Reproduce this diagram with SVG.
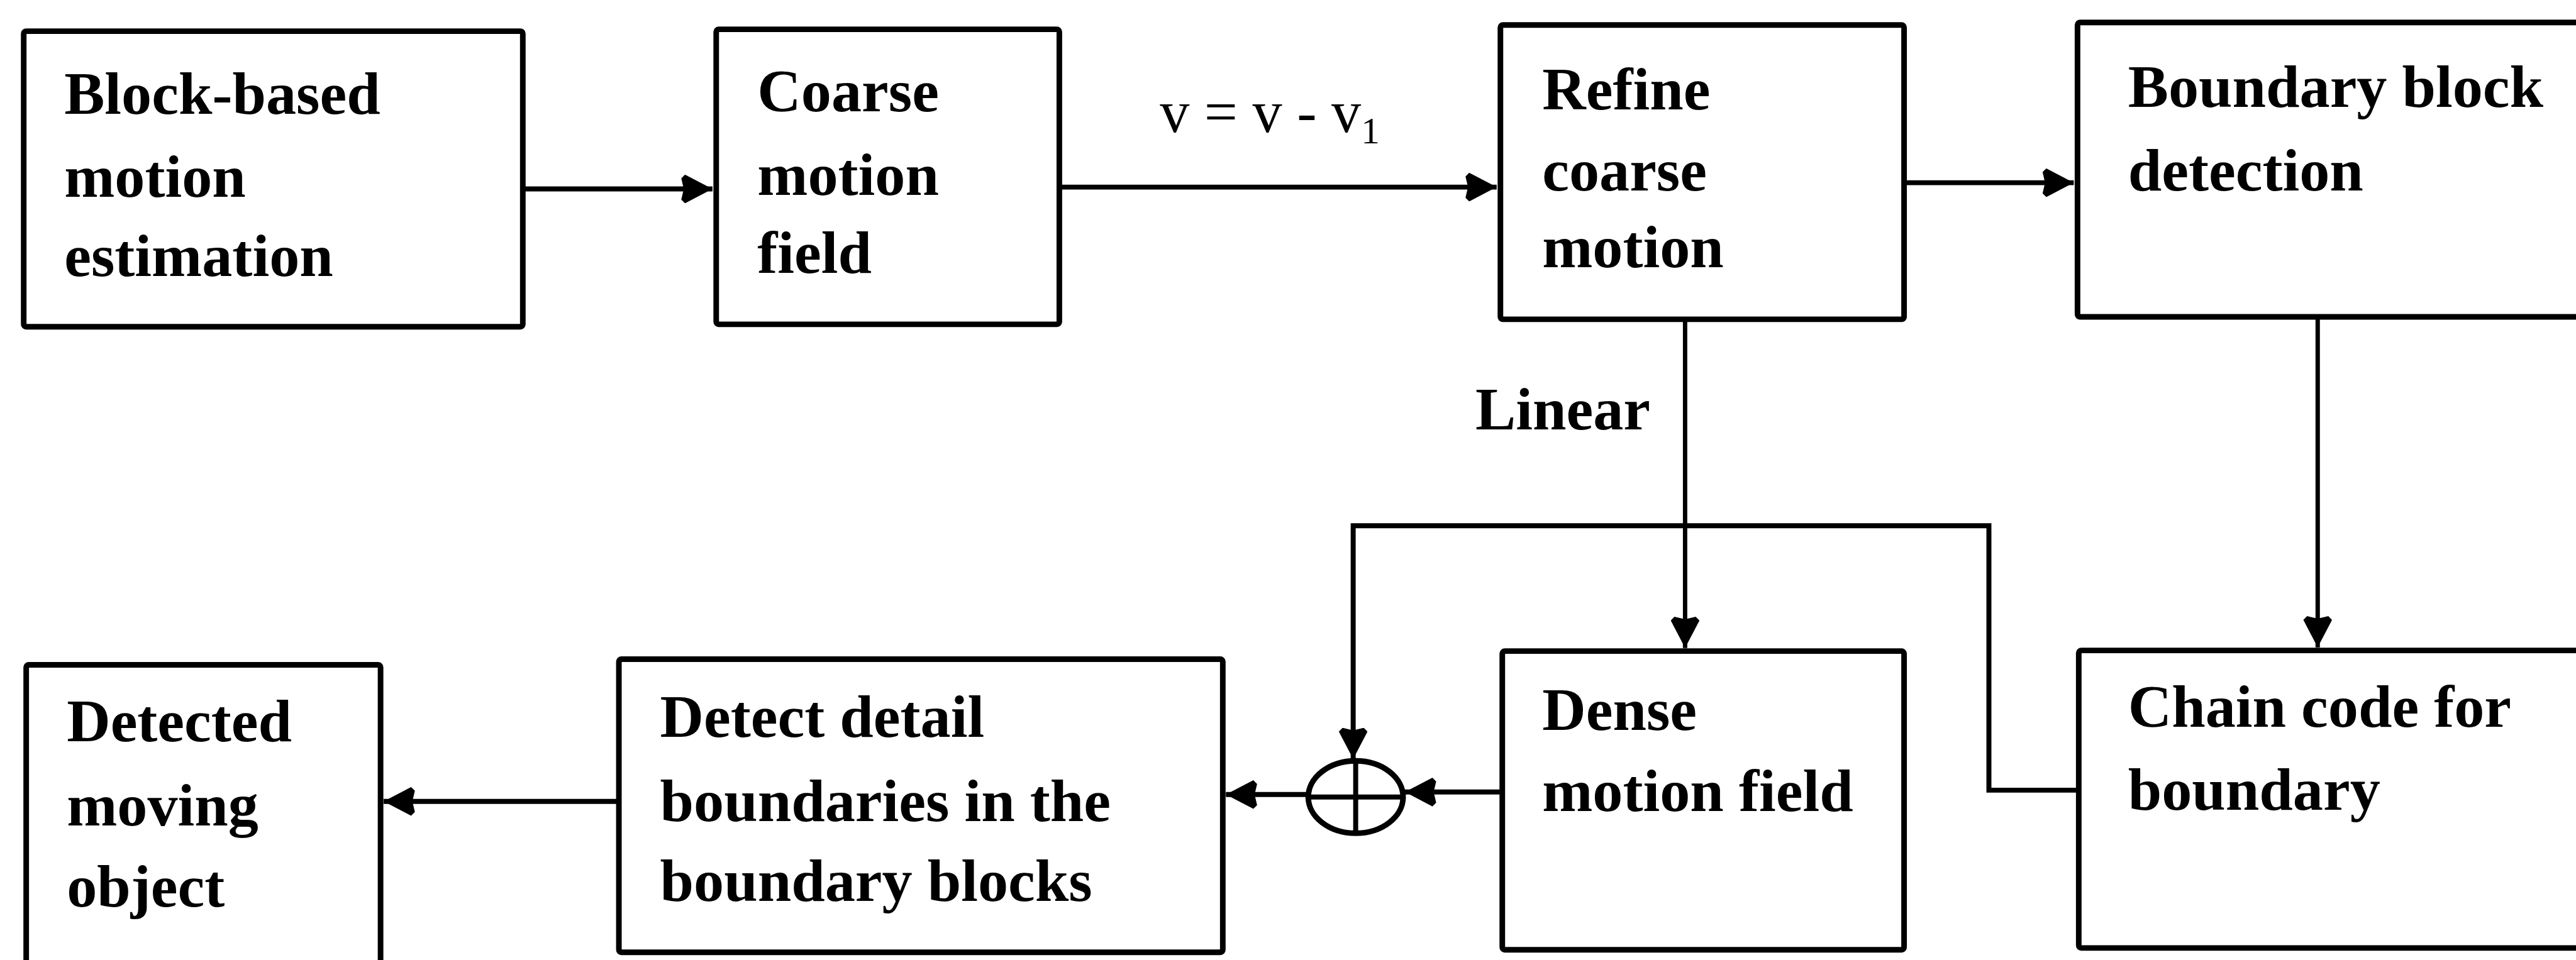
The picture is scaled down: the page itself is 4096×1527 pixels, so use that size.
<svg xmlns="http://www.w3.org/2000/svg" width="4096" height="1527" viewBox="0 0 4096 1527">
<defs>
<style>
.box{fill:#fff;stroke:#000;stroke-width:9}
.lbl{font-family:"Liberation Serif","Times New Roman",serif;font-size:97px;font-weight:bold;fill:#000}
.eq{font-family:"Liberation Serif","Times New Roman",serif;font-size:95px;fill:#000}
.ln{fill:none;stroke:#000;stroke-width:8}
.thin{fill:none;stroke:#000;stroke-width:7}
</style>
<marker id="ah" viewBox="0 0 50 46" refX="50" refY="23" markerWidth="50" markerHeight="46" markerUnits="userSpaceOnUse" orient="auto">
<path d="M50,23 L6,0 L0,6 L4,23 L0,40 L6,46 Z" fill="#000"/>
</marker>
</defs>
<rect width="4096" height="1527" fill="#fff"/>
<g transform="scale(0.992)">
<g id="connectors">
<path class="ln" d="M838,303 H1142" marker-end="url(#ah)"/>
<path class="ln" d="M1698,300 H2399" marker-end="url(#ah)"/>
<path class="ln" d="M3052,293 H3324" marker-end="url(#ah)"/>
<path class="thin" d="M2701,512 V1039" marker-end="url(#ah)"/>
<path class="thin" d="M3715,508 V1038" marker-end="url(#ah)"/>
<path class="ln" d="M3332,1267 H3188 V843 H2169 V1217" marker-end="url(#ah)"/>
<path class="ln" d="M2408,1270 H2252" marker-end="url(#ah)"/>
<path class="ln" d="M2097,1274 H1965" marker-end="url(#ah)"/>
<path class="ln" d="M992,1285 H615" marker-end="url(#ah)"/>
<text class="eq" x="1859" y="212">v = v - v<tspan font-size="60" dy="18">1</tspan></text>
<text class="lbl" x="2365" y="689">Linear</text>
</g>
<g id="adder">
<ellipse cx="2173" cy="1278" rx="76" ry="58" fill="#fff" stroke="#000" stroke-width="9"/>
<path d="M2173,1220 V1336 M2097,1278 H2249" stroke="#000" stroke-width="8" fill="none"/>
</g>
<g id="n1">
<rect class="box" x="38" y="50" width="800" height="474" rx="4"/>
<text class="lbl" x="103" y="182">Block-based<tspan x="103" y="316">motion</tspan><tspan x="103" y="443">estimation</tspan></text>
</g>
<g id="n2">
<rect class="box" x="1148" y="47" width="550" height="473" rx="4"/>
<text class="lbl" x="1214" y="178">Coarse<tspan x="1214" y="312">motion</tspan><tspan x="1214" y="437">field</tspan></text>
</g>
<g id="n3">
<rect class="box" x="2405" y="40" width="647" height="472" rx="4"/>
<text class="lbl" x="2472" y="175">Refine<tspan x="2472" y="305">coarse</tspan><tspan x="2472" y="428">motion</tspan></text>
</g>
<g id="n4">
<rect class="box" x="3330" y="36" width="900" height="472" rx="4"/>
<text class="lbl" x="3411" y="171">Boundary block<tspan x="3411" y="305">detection</tspan></text>
</g>
<g id="n5">
<rect class="box" x="42" y="1066" width="568" height="600" rx="4"/>
<text class="lbl" x="107" y="1189">Detected<tspan x="107" y="1324">moving</tspan><tspan x="107" y="1454">object</tspan></text>
</g>
<g id="n6">
<rect class="box" x="992" y="1057" width="968" height="470" rx="4"/>
<text class="lbl" x="1058" y="1181">Detect detail<tspan x="1058" y="1317">boundaries in the</tspan><tspan x="1058" y="1445">boundary blocks</tspan></text>
</g>
<g id="n7">
<rect class="box" x="2408" y="1044" width="644" height="479" rx="4"/>
<text class="lbl" x="2472" y="1170">Dense<tspan x="2472" y="1300">motion field</tspan></text>
</g>
<g id="n8">
<rect class="box" x="3332" y="1043" width="900" height="477" rx="4"/>
<text class="lbl" x="3411" y="1165">Chain code for<tspan x="3411" y="1298">boundary</tspan></text>
</g>
</g>
</svg>
